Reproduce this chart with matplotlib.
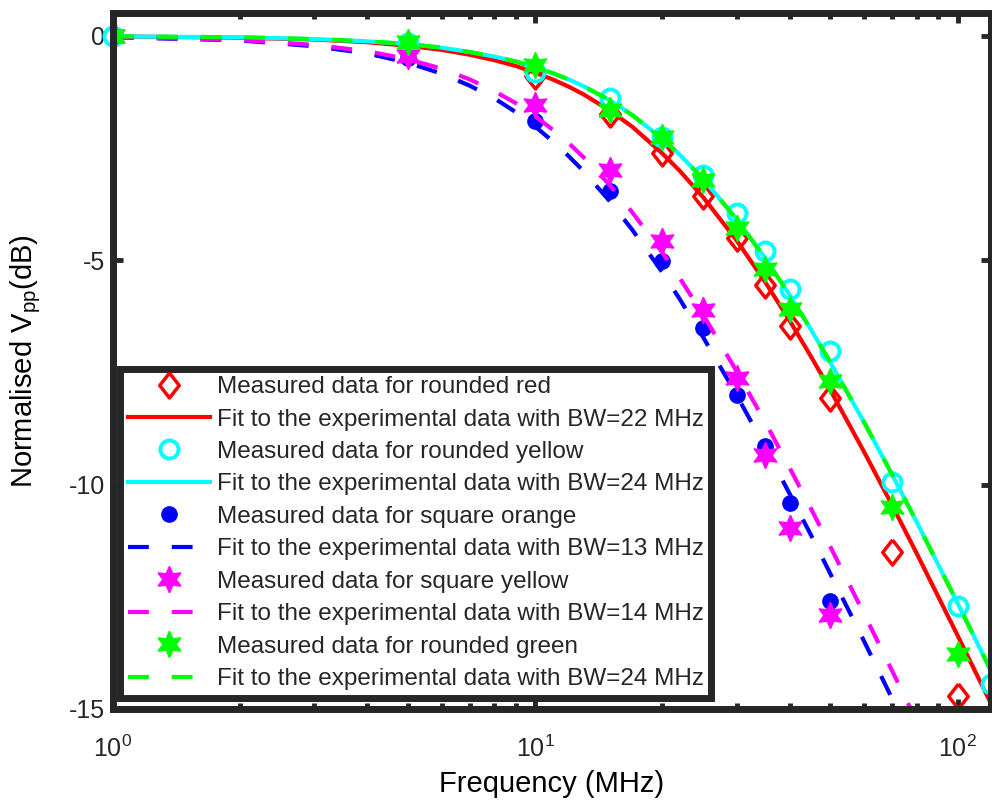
import matplotlib
matplotlib.use('Agg')
import matplotlib.pyplot as plt
from matplotlib.ticker import NullFormatter

# measured frequencies (MHz) and normalised Vpp (dB)
red_freq = [1, 5, 10, 15, 20, 25, 30, 35, 40, 50, 70, 100]
red_db = [0, -0.2, -0.9, -1.75, -2.6, -3.56, -4.5, -5.55, -6.46, -8.06, -11.5, -14.7]

cyan_freq = [1, 5, 10, 15, 20, 25, 30, 35, 40, 50, 70, 100, 120]
cyan_db = [0, -0.15, -0.8, -1.38, -2.25, -3.1, -3.94, -4.79, -5.63, -7.02, -9.93, -12.7, -14.45]

blue_freq = [1, 5, 10, 15, 20, 25, 30, 35, 40, 50]
blue_db = [0, -0.5, -1.9, -3.45, -5.01, -6.5, -8.0, -9.13, -10.4, -12.6]

mag_freq = [1, 5, 10, 15, 20, 25, 30, 35, 40, 50]
mag_db = [0, -0.45, -1.53, -2.98, -4.57, -6.1, -7.62, -9.35, -10.96, -12.9]

green_freq = [1, 5, 10, 15, 20, 25, 30, 35, 40, 50, 70, 100]
green_db = [0, -0.13, -0.65, -1.65, -2.25, -3.2, -4.28, -5.2, -6.08, -7.68, -10.5, -13.77]

# fitted curves
fit_freq = [1, 2, 3, 4, 5, 6, 7, 8, 9, 10, 11, 12, 13, 15, 17, 20, 22, 25, 30, 35, 40, 45, 50,
            60, 70, 80, 100, 120]
fit22 = [-0.01, -0.04, -0.08, -0.14, -0.22, -0.31, -0.42, -0.54, -0.67, -0.82, -0.97, -1.13,
         -1.30, -1.66, -2.03, -2.62, -3.01, -3.60, -4.56, -5.48, -6.34, -7.15, -7.90,
         -9.26, -10.46, -11.53, -13.36, -14.88]
fit24 = [-0.01, -0.03, -0.07, -0.12, -0.18, -0.26, -0.36, -0.46, -0.57, -0.70, -0.83, -0.97,
         -1.12, -1.43, -1.77, -2.29, -2.65, -3.19, -4.09, -4.95, -5.77, -6.55, -7.28,
         -8.60, -9.78, -10.83, -12.64, -14.15]
fit13 = [-0.03, -0.10, -0.23, -0.39, -0.60, -0.84, -1.11, -1.39, -1.70, -2.02, -2.35, -2.68,
         -3.01, -3.68, -4.33, -5.27, -5.87, -6.72, -8.01, -9.16, -10.20, -11.13, -11.99,
         -13.48, -14.77, -15.90, -17.79, -19.36]
fit14 = [-0.02, -0.09, -0.20, -0.34, -0.52, -0.73, -0.97, -1.23, -1.50, -1.79, -2.09, -2.39,
         -2.70, -3.32, -3.94, -4.83, -5.40, -6.22, -7.48, -8.60, -9.62, -10.54, -11.39,
         -12.87, -14.15, -15.27, -17.16, -18.72]

labels = ["Measured data for rounded red",
          "Fit to the experimental data with BW=22 MHz",
          "Measured data for rounded yellow",
          "Fit to the experimental data with BW=24 MHz",
          "Measured data for square orange",
          "Fit to the experimental data with BW=13 MHz",
          "Measured data for square yellow",
          "Fit to the experimental data with BW=14 MHz",
          "Measured data for rounded green",
          "Fit to the experimental data with BW=24 MHz"]

RED, CYAN, BLUE, MAGENTA, GREEN = '#ff0000', '#00ffff', '#0000ff', '#ff00ff', '#00ff00'
dark = '#262626'
plt.rcParams['font.family'] = ['Liberation Sans', 'DejaVu Sans']
plt.rcParams['font.size'] = 18
plt.rcParams['axes.unicode_minus'] = False
plt.rcParams['text.color'] = dark

fig = plt.figure(figsize=(9.92, 8.02), dpi=100)
ax = fig.add_axes([113/992, 93/802, 878/992, 695.5/802])

diamond = [(0, 1), (0.78, 0), (0, -1), (-0.78, 0), (0, 1)]
hexagram = (6, 1, 0)
lw = 3

ax.plot(red_freq, red_db, ls='none', marker=diamond, ms=18, mfc='none', mec=RED, mew=2.5, label=labels[0])
ax.plot(fit_freq, fit22, '-', color=RED, lw=lw, label=labels[1])
ax.plot(cyan_freq, cyan_db, ls='none', marker='o', ms=13, mfc='none', mec=CYAN, mew=2.8,
        label=labels[2], clip_on=False)
ax.plot(fit_freq, fit24, '-', color=CYAN, lw=lw, label=labels[3])
ax.plot(blue_freq, blue_db, ls='none', marker='o', ms=11, mfc=BLUE, mec=BLUE, label=labels[4])
ax.plot(fit_freq, fit13, '--', color=BLUE, lw=lw, dashes=(5, 5.5), label=labels[5])
ax.plot(mag_freq, mag_db, ls='none', marker=hexagram, ms=19, mfc=MAGENTA, mec=MAGENTA, mew=1,
        label=labels[6])
ax.plot(fit_freq, fit14, '--', color=MAGENTA, lw=lw, dashes=(5, 5.5), label=labels[7])
ax.plot(green_freq, green_db, ls='none', marker=hexagram, ms=19, mfc=GREEN, mec=GREEN, mew=1,
        label=labels[8])
ax.plot(fit_freq, fit24, '--', color=GREEN, lw=lw, dashes=(5, 5.5), label=labels[9])

ax.set_xscale('log')
ax.set_xlim(1, 120)
ax.set_ylim(-15, 0.5)
ax.set_yticks([-15, -10, -5, 0])
ax.xaxis.set_minor_formatter(NullFormatter())

ax.tick_params(which='both', direction='in', top=True, right=True, colors=dark, labelcolor=dark)
ax.tick_params(which='major', length=7, width=3.5)
ax.tick_params(which='minor', length=4, width=3.5)
ax.tick_params(axis='x', pad=19)
ax.tick_params(axis='y', pad=6)
for s in ax.spines.values():
    s.set_linewidth(5)
    s.set_color(dark)

ax.set_xlabel('Frequency (MHz)', fontsize=21)
ax.set_ylabel('Normalised V$_{\\mathregular{pp}}$(dB)', fontsize=21)
ax.xaxis.set_label_coords(0.5, -0.088)
ax.yaxis.set_label_coords(-0.08, 0.5)

leg = ax.legend(loc='lower left', bbox_to_anchor=(0.0085, 0.0165), borderaxespad=0,
                fancybox=False, framealpha=1, edgecolor=dark, numpoints=1, fontsize=17.5,
                handlelength=3.37, handletextpad=0.3, borderpad=0.3, labelspacing=0.43)
leg.get_frame().set_linewidth(5)

fig.savefig('out.png', dpi=100)
